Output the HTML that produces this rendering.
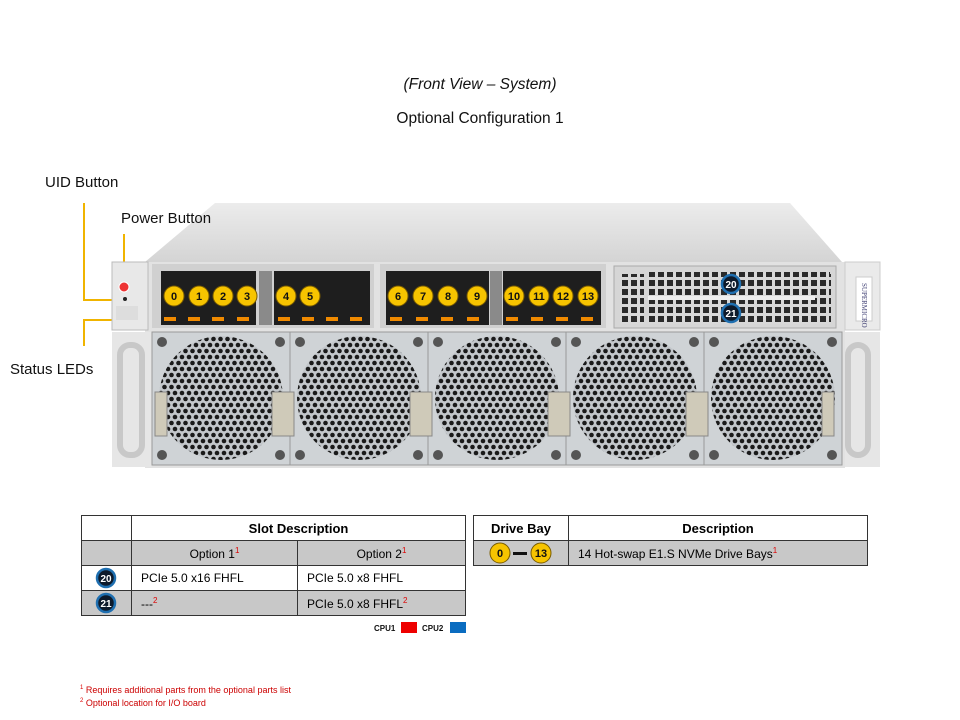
<!DOCTYPE html>
<html><head><meta charset="utf-8"><style>
body{margin:0;background:#fff;}
#w{position:relative;width:960px;height:720px;overflow:hidden;font-family:"Liberation Sans",Arial,sans-serif;}
.t{position:absolute;color:#111;white-space:nowrap;z-index:5;}
table{position:absolute;border-collapse:collapse;font-size:12px;}
td{border:1px solid #333;padding:0;height:24px;}
.g{background:#c8c8c8;}
sup{color:#d00;font-size:8px;}
</style></head><body><div id="w">

<svg width="960" height="720" style="position:absolute;left:0;top:0" xmlns="http://www.w3.org/2000/svg">
<defs>
<pattern id="hex" width="7" height="12" patternUnits="userSpaceOnUse">
<rect width="7" height="12" fill="#c3c7cb"/>
<circle cx="3.5" cy="3" r="2.3" fill="#1a1a1a"/>
<circle cx="0" cy="9" r="2.3" fill="#1a1a1a"/><circle cx="7" cy="9" r="2.3" fill="#1a1a1a"/>
</pattern>
<pattern id="grl" width="9" height="9" patternUnits="userSpaceOnUse">
<rect width="9" height="9" fill="#d8d8d8"/>
<rect x="1" y="1" width="6" height="6" fill="#2a2a2a"/>
</pattern>
<linearGradient id="top" x1="0" y1="0" x2="0" y2="1"><stop offset="0" stop-color="#ececec"/><stop offset="1" stop-color="#d4d4d4"/></linearGradient>
</defs>
<!-- callout lines -->
<g stroke="#f0b400" stroke-width="2" fill="none">
<polyline points="84,203 84,300 115,300"/>
<polyline points="124,234 124,283"/>
<polyline points="113,320 84,320 84,346"/>
</g>
<!-- top cover -->
<polygon points="145,262 215,203 790,203 842,262" fill="url(#top)"/>
<!-- front chassis -->
<rect x="145" y="262" width="700" height="206" fill="#e2e2e2"/>
<rect x="112" y="262" width="36" height="68" fill="#e8e8e8" stroke="#bbb"/>
<circle cx="124" cy="287" r="5" fill="#e33" stroke="#fff"/>
<circle cx="125" cy="299" r="2" fill="#222"/>
<rect x="116" y="306" width="22" height="14" fill="#ddd"/>
<rect x="845" y="262" width="35" height="68" fill="#eaeaea" stroke="#ccc"/>
<rect x="856" y="277" width="16" height="44" fill="#fff" stroke="#ccc"/>
<text x="862" y="283" font-size="7" fill="#447" transform="rotate(90 862 283)" font-family="Liberation Serif">SUPERMICRO</text>
<rect x="112" y="332" width="40" height="135" fill="#e6e6e6"/>
<rect x="120" y="345" width="22" height="110" rx="10" fill="none" stroke="#c8c8c8" stroke-width="6"/>
<rect x="845" y="332" width="35" height="135" fill="#e6e6e6"/>
<rect x="848" y="345" width="20" height="110" rx="10" fill="none" stroke="#c8c8c8" stroke-width="6"/>
<!-- drive area -->
<rect x="152" y="264" width="222" height="64" fill="#d0d0d0"/>
<rect x="380" y="264" width="226" height="64" fill="#d0d0d0"/>
<rect x="614" y="266" width="222" height="62" fill="#d6d6d6" stroke="#aaa"/>
<g fill="#1e1e1e">
<rect x="161" y="271" width="95" height="54"/>
<rect x="274" y="271" width="96" height="54"/>
<rect x="386" y="271" width="103" height="54"/>
<rect x="503" y="271" width="98" height="54"/>
</g>
<rect x="259" y="271" width="13" height="54" fill="#8a8a8a"/>
<rect x="490" y="271" width="12" height="54" fill="#8a8a8a"/>
<g fill="#f08a00">
<rect x="164" y="317" width="12" height="4"/><rect x="188" y="317" width="12" height="4"/><rect x="212" y="317" width="12" height="4"/><rect x="237" y="317" width="12" height="4"/>
<rect x="278" y="317" width="12" height="4"/><rect x="302" y="317" width="12" height="4"/><rect x="326" y="317" width="12" height="4"/><rect x="350" y="317" width="12" height="4"/>
<rect x="390" y="317" width="12" height="4"/><rect x="416" y="317" width="12" height="4"/><rect x="441" y="317" width="12" height="4"/><rect x="467" y="317" width="12" height="4"/>
<rect x="506" y="317" width="12" height="4"/><rect x="531" y="317" width="12" height="4"/><rect x="556" y="317" width="12" height="4"/><rect x="581" y="317" width="12" height="4"/>
</g>
<!-- pcie -->
<rect x="648" y="272" width="182" height="24" fill="url(#grl)"/>
<rect x="648" y="300" width="182" height="24" fill="url(#grl)"/>
<rect x="648" y="296" width="182" height="4" fill="#eee"/>
<rect x="620" y="274" width="24" height="50" fill="url(#grl)"/>
<rect x="815" y="274" width="16" height="50" fill="url(#grl)"/>
<!-- fans -->
<g>
<rect x="152" y="332" width="138" height="133" fill="#cfd3d6" stroke="#999"/>
<rect x="290" y="332" width="138" height="133" fill="#cfd3d6" stroke="#999"/>
<rect x="428" y="332" width="138" height="133" fill="#cfd3d6" stroke="#999"/>
<rect x="566" y="332" width="138" height="133" fill="#cfd3d6" stroke="#999"/>
<rect x="704" y="332" width="138" height="133" fill="#cfd3d6" stroke="#999"/>
<circle cx="221" cy="398" r="62" fill="url(#hex)"/>
<circle cx="359" cy="398" r="62" fill="url(#hex)"/>
<circle cx="497" cy="398" r="62" fill="url(#hex)"/>
<circle cx="635" cy="398" r="62" fill="url(#hex)"/>
<circle cx="773" cy="398" r="62" fill="url(#hex)"/>
</g>
<g fill="#555">
<circle cx="162" cy="342" r="5"/><circle cx="280" cy="342" r="5"/><circle cx="162" cy="455" r="5"/><circle cx="280" cy="455" r="5"/>
<circle cx="300" cy="342" r="5"/><circle cx="418" cy="342" r="5"/><circle cx="300" cy="455" r="5"/><circle cx="418" cy="455" r="5"/>
<circle cx="438" cy="342" r="5"/><circle cx="556" cy="342" r="5"/><circle cx="438" cy="455" r="5"/><circle cx="556" cy="455" r="5"/>
<circle cx="576" cy="342" r="5"/><circle cx="694" cy="342" r="5"/><circle cx="576" cy="455" r="5"/><circle cx="694" cy="455" r="5"/>
<circle cx="714" cy="342" r="5"/><circle cx="832" cy="342" r="5"/><circle cx="714" cy="455" r="5"/><circle cx="832" cy="455" r="5"/>
</g>
<g fill="#cfcab9" stroke="#888">
<rect x="155" y="392" width="12" height="44"/>
<rect x="272" y="392" width="22" height="44"/><rect x="410" y="392" width="22" height="44"/>
<rect x="548" y="392" width="22" height="44"/><rect x="686" y="392" width="22" height="44"/>
<rect x="822" y="392" width="12" height="44"/>
</g>
<!-- badges -->
<g font-size="11" font-weight="bold" text-anchor="middle" font-family="Liberation Sans">
<g fill="#f7c400" stroke="#7a5c00" stroke-width="1">
<circle cx="174" cy="296" r="10"/><circle cx="199" cy="296" r="10"/><circle cx="223" cy="296" r="10"/><circle cx="247" cy="296" r="10"/>
<circle cx="286" cy="296" r="10"/><circle cx="310" cy="296" r="10"/>
<circle cx="398" cy="296" r="10"/><circle cx="423" cy="296" r="10"/><circle cx="448" cy="296" r="10"/><circle cx="477" cy="296" r="10"/>
<circle cx="514" cy="296" r="10"/><circle cx="539" cy="296" r="10"/><circle cx="563" cy="296" r="10"/><circle cx="588" cy="296" r="10"/>
</g>
<g fill="#111">
<text x="174" y="300">0</text><text x="199" y="300">1</text><text x="223" y="300">2</text><text x="247" y="300">3</text>
<text x="286" y="300">4</text><text x="310" y="300">5</text>
<text x="398" y="300">6</text><text x="423" y="300">7</text><text x="448" y="300">8</text><text x="477" y="300">9</text>
<text x="514" y="300">10</text><text x="539" y="300">11</text><text x="563" y="300">12</text><text x="588" y="300">13</text>
</g>
<g fill="#0d1a2b" stroke="#1f6fb0" stroke-width="2.5">
<circle cx="731" cy="284" r="9"/><circle cx="731" cy="313" r="9"/>
</g>
<g fill="#fff" font-size="10">
<text x="731" y="288">20</text><text x="731" y="317">21</text>
</g>
</g>
<!-- cpu legend -->
<text x="374" y="631" font-size="8" font-weight="bold" fill="#111">CPU1</text>
<rect x="401" y="622" width="16" height="11" fill="#e00"/>
<text x="422" y="631" font-size="8" font-weight="bold" fill="#111">CPU2</text>
<rect x="450" y="622" width="16" height="11" fill="#0a6cc0"/>
</svg>

<div class="t" style="left:0;width:960px;text-align:center;top:76px;font-size:15.5px;font-style:italic;">(Front View – System)</div>
<div class="t" style="left:0;width:960px;text-align:center;top:110px;font-size:15.5px;">Optional Configuration 1</div>
<div class="t" style="left:45px;top:174px;font-size:15px;">UID Button</div>
<div class="t" style="left:121px;top:210px;font-size:15px;">Power Button</div>
<div class="t" style="left:10px;top:361px;font-size:15px;">Status LEDs</div>

<table style="left:81px;top:515px;width:385px;">
<tr><td style="width:49px;height:24px"></td><td colspan="2" style="text-align:center;font-weight:bold;font-size:13px">Slot Description</td></tr>
<tr class="g"><td></td><td style="width:165px;text-align:center">Option 1<sup>1</sup></td><td style="text-align:center">Option 2<sup>1</sup></td></tr>
<tr><td></td><td style="padding-left:9px">PCIe 5.0 x16 FHFL</td><td style="padding-left:9px">PCIe 5.0 x8 FHFL</td></tr>
<tr class="g"><td></td><td style="padding-left:9px">---<sup>2</sup></td><td style="padding-left:9px">PCIe 5.0 x8 FHFL<sup>2</sup></td></tr>
</table>
<table style="left:473px;top:515px;width:395px;">
<tr><td style="width:94px;text-align:center;font-weight:bold;font-size:13px">Drive Bay</td><td style="text-align:center;font-weight:bold;font-size:13px">Description</td></tr>
<tr class="g"><td></td><td style="padding-left:9px">14 Hot-swap E1.S NVMe Drive Bays<sup>1</sup></td></tr>
</table>
<svg width="960" height="720" style="position:absolute;left:0;top:0;pointer-events:none" xmlns="http://www.w3.org/2000/svg">
<g font-size="11" font-weight="bold" text-anchor="middle" font-family="Liberation Sans">
<g fill="#f7c400" stroke="#7a5c00"><circle cx="500" cy="553" r="10"/><circle cx="541" cy="553" r="10"/></g>
<g fill="#111"><text x="500" y="557">0</text><text x="541" y="557">13</text></g>
<rect x="513" y="552" width="14" height="3" fill="#111"/>
<g fill="#0d1a2b" stroke="#1f6fb0" stroke-width="2.5"><circle cx="106" cy="578" r="9"/><circle cx="106" cy="603" r="9"/></g>
<g fill="#fff" font-size="10"><text x="106" y="582">20</text><text x="106" y="607">21</text></g>
</g>
</svg>
<div class="t" style="left:80px;top:685px;font-size:9px;color:#c00;"><sup style="font-size:6px">1</sup> Requires additional parts from the optional parts list</div>
<div class="t" style="left:80px;top:698px;font-size:9px;color:#c00;"><sup style="font-size:6px">2</sup> Optional location for I/O board</div>
</div></body></html>
